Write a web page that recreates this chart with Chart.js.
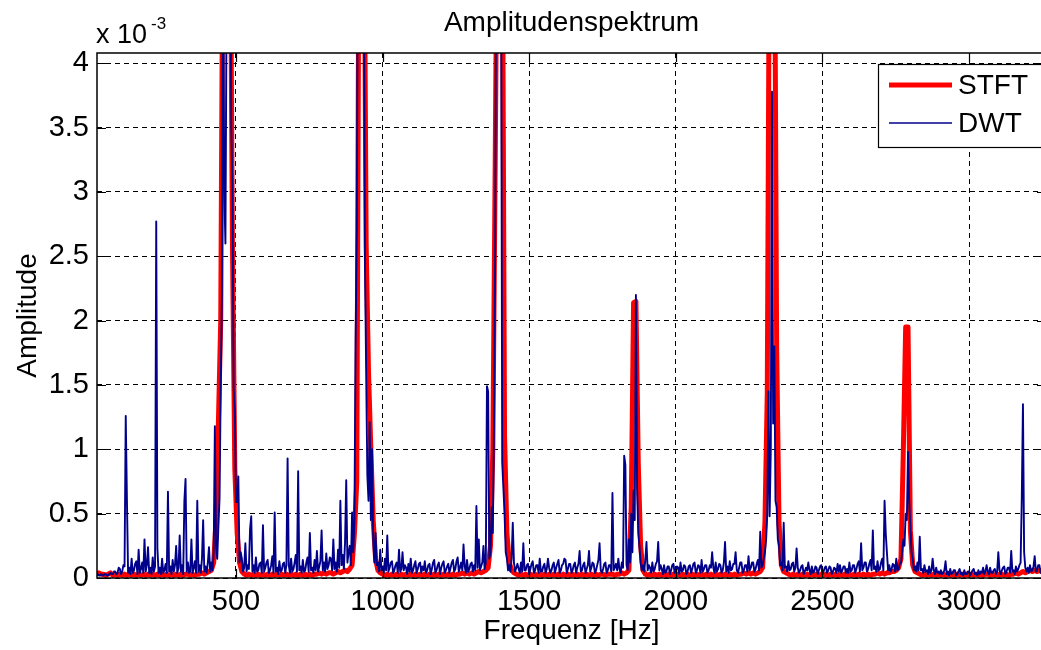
<!DOCTYPE html>
<html>
<head>
<meta charset="utf-8">
<title>Amplitudenspektrum</title>
<script src="https://cdn.jsdelivr.net/npm/chart.js@4.4.1/dist/chart.umd.min.js"></script>
<style>
  html, body { margin: 0; padding: 0; background: #fff; overflow: hidden; }
  #lienzo { display: block; }
</style>
</head>
<body>
<canvas id="lienzo" width="1048" height="650"></canvas>
<script>
// Rejillas de frecuencia: STFT un bin cada 8 Hz, DWT cada 4 Hz, ambas desde 24 Hz
const binInicio = 24
const pasoSTFT = 8
const pasoDWT = 4

// Amplitudes en unidades de 10^-3, una fila = 160 Hz
const valoresSTFT = [
  0.03,0.04,0.03,0.03,0.02,0.03,0.04,0.02,0.03,0.02,0.03,0.02,0.03,0.02,0.03,0.02,0.03,0.02,0.03,0.02,
  0.03,0.02,0.03,0.02,0.03,0.02,0.03,0.02,0.03,0.02,0.03,0.02,0.03,0.02,0.03,0.02,0.03,0.02,0.03,0.03,
  0.02,0.03,0.02,0.03,0.03,0.04,0.03,0.04,0.05,0.06,0.12,0.45,1.20,2.00,5.50,5.80,5.60,5.40,2.60,0.85,
  0.35,0.12,0.05,0.03,0.02,0.03,0.02,0.03,0.02,0.03,0.02,0.03,0.02,0.03,0.02,0.03,0.02,0.03,0.02,0.03,
  0.02,0.03,0.02,0.03,0.02,0.03,0.02,0.03,0.02,0.03,0.02,0.03,0.02,0.03,0.03,0.04,0.03,0.04,0.03,0.04,
  0.04,0.03,0.04,0.05,0.04,0.05,0.06,0.05,0.07,0.10,0.35,0.75,5.50,5.80,5.60,2.59,1.60,1.00,0.45,0.15,
  0.06,0.04,0.03,0.02,0.03,0.02,0.03,0.02,0.03,0.02,0.03,0.02,0.03,0.02,0.03,0.02,0.03,0.02,0.03,0.02,
  0.03,0.02,0.03,0.02,0.03,0.02,0.03,0.02,0.03,0.02,0.03,0.02,0.03,0.02,0.03,0.03,0.04,0.03,0.04,0.03,
  0.04,0.03,0.04,0.05,0.04,0.05,0.06,0.08,0.25,1.00,3.20,5.60,5.80,5.50,1.10,0.35,0.12,0.06,0.04,0.03,
  0.02,0.03,0.02,0.03,0.02,0.03,0.02,0.03,0.02,0.03,0.02,0.03,0.02,0.03,0.02,0.03,0.02,0.03,0.02,0.03,
  0.02,0.03,0.02,0.03,0.02,0.03,0.02,0.03,0.02,0.03,0.02,0.03,0.02,0.03,0.02,0.03,0.03,0.02,0.03,0.03,
  0.03,0.02,0.03,0.03,0.04,0.03,0.04,0.06,0.55,2.14,2.15,0.89,0.25,0.06,0.03,0.02,0.03,0.02,0.03,0.02,
  0.03,0.02,0.03,0.02,0.03,0.02,0.03,0.02,0.03,0.02,0.03,0.02,0.03,0.02,0.03,0.02,0.03,0.02,0.03,0.02,
  0.03,0.02,0.03,0.02,0.03,0.02,0.03,0.02,0.03,0.02,0.03,0.02,0.03,0.02,0.03,0.03,0.04,0.03,0.04,0.03,
  0.04,0.03,0.04,0.05,0.08,0.43,1.44,5.50,5.80,5.60,1.79,0.43,0.10,0.05,0.04,0.03,0.02,0.03,0.02,0.03,
  0.02,0.03,0.02,0.03,0.02,0.03,0.02,0.03,0.02,0.03,0.02,0.03,0.02,0.03,0.02,0.03,0.02,0.03,0.02,0.03,
  0.02,0.03,0.02,0.03,0.02,0.03,0.02,0.03,0.02,0.03,0.02,0.03,0.03,0.04,0.03,0.04,0.03,0.04,0.04,0.05,
  0.05,0.06,0.08,0.15,0.99,1.95,1.95,0.37,0.10,0.05,0.04,0.03,0.02,0.03,0.02,0.03,0.02,0.03,0.02,0.03,
  0.02,0.03,0.02,0.03,0.02,0.03,0.02,0.03,0.02,0.03,0.02,0.03,0.02,0.03,0.02,0.03,0.02,0.03,0.02,0.03,
  0.03,0.02,0.03,0.02,0.03,0.02,0.03,0.02,0.03,0.02,0.03,0.03,0.04,0.03,0.04,0.05,0.04,0.05,0.06,0.05,
  0.06,0.05,0.06,0.05,0.05
]

const valoresDWT = [
  0.02,0.03,0.02,0.02,0.03,0.02,0.02,0.03,0.03,0.02,0.02,0.03,0.04,0.03,0.03,0.05,0.05,0.03,0.04,0.08,
  0.07,0.03,0.05,0.10,0.09,1.26,0.62,0.04,0.08,0.03,0.15,0.04,0.06,0.11,0.13,0.03,0.22,0.04,0.07,0.12,
  0.04,0.30,0.05,0.10,0.24,0.04,0.08,0.03,0.16,0.05,0.09,2.77,0.23,0.04,0.08,0.03,0.15,0.04,0.06,0.11,
  0.04,0.67,0.05,0.09,0.03,0.14,0.05,0.10,0.25,0.04,0.08,0.33,0.05,0.10,0.03,0.60,0.77,0.05,0.12,0.04,
  0.05,0.30,0.04,0.08,0.13,0.04,0.60,0.05,0.10,0.04,0.15,0.45,0.05,0.09,0.04,0.12,0.24,0.05,0.12,0.06,
  0.20,1.18,0.25,0.15,0.40,0.62,1.50,2.20,5.20,3.00,2.60,4.50,5.60,4.80,5.40,3.50,3.05,1.48,1.30,0.59,
  0.59,0.79,0.12,0.20,0.15,0.05,0.08,0.27,0.05,0.10,0.07,0.38,0.48,0.05,0.10,0.04,0.16,0.05,0.06,0.11,
  0.12,0.04,0.41,0.05,0.08,0.12,0.14,0.04,0.06,0.10,0.17,0.04,0.51,0.05,0.08,0.03,0.13,0.05,0.06,0.11,
  0.12,0.04,0.10,0.93,0.10,0.04,0.15,0.05,0.07,0.12,0.18,0.05,0.83,0.06,0.09,0.04,0.14,0.05,0.06,0.12,
  0.16,0.05,0.35,0.06,0.08,0.04,0.14,0.06,0.21,0.05,0.09,0.13,0.37,0.06,0.12,0.05,0.19,0.07,0.10,0.16,
  0.15,0.06,0.30,0.07,0.12,0.05,0.22,0.08,0.60,0.10,0.18,0.07,0.28,0.76,0.12,0.20,0.25,0.10,0.51,0.20,
  0.45,1.85,2.70,5.30,4.20,5.60,4.80,5.50,4.90,2.43,1.60,0.80,0.60,1.21,0.45,1.00,0.30,0.12,0.35,0.10,
  0.12,0.05,0.22,0.06,0.09,0.04,0.15,0.06,0.33,0.05,0.08,0.12,0.13,0.04,0.06,0.10,0.12,0.04,0.22,0.05,
  0.07,0.20,0.06,0.10,0.08,0.03,0.11,0.05,0.15,0.04,0.06,0.10,0.13,0.04,0.07,0.11,0.12,0.04,0.09,0.06,
  0.13,0.04,0.06,0.10,0.11,0.03,0.07,0.12,0.14,0.04,0.06,0.10,0.12,0.03,0.08,0.11,0.13,0.04,0.06,0.09,
  0.11,0.04,0.08,0.12,0.14,0.05,0.07,0.13,0.16,0.05,0.08,0.12,0.06,0.26,0.09,0.04,0.14,0.05,0.07,0.11,
  0.12,0.05,0.10,0.06,0.56,0.08,0.30,0.06,0.09,0.12,0.25,0.07,0.12,1.49,1.45,0.15,0.20,0.55,0.35,1.20,
  2.58,5.40,4.50,5.10,5.60,5.00,0.90,0.70,0.50,0.20,0.15,0.06,0.10,0.05,0.15,0.43,0.12,0.05,0.08,0.11,
  0.07,0.04,0.12,0.05,0.27,0.06,0.06,0.10,0.11,0.03,0.07,0.11,0.13,0.04,0.06,0.10,0.10,0.04,0.15,0.05,
  0.05,0.09,0.11,0.04,0.07,0.15,0.08,0.04,0.06,0.10,0.12,0.04,0.08,0.11,0.14,0.04,0.06,0.10,0.11,0.15,
  0.14,0.04,0.07,0.11,0.11,0.04,0.06,0.10,0.12,0.04,0.08,0.11,0.21,0.05,0.06,0.10,0.12,0.04,0.07,0.10,
  0.21,0.05,0.08,0.12,0.11,0.04,0.06,0.10,0.14,0.27,0.06,0.04,0.07,0.11,0.12,0.04,0.06,0.10,0.10,0.05,
  0.66,0.06,0.08,0.11,0.06,0.15,0.07,0.04,0.12,0.08,0.95,0.88,0.10,0.06,0.30,0.12,0.50,0.20,0.68,0.45,
  2.20,0.70,0.35,0.25,0.12,0.06,0.10,0.05,0.14,0.28,0.06,0.10,0.08,0.04,0.12,0.05,0.07,0.11,0.13,0.28,
  0.06,0.10,0.07,0.03,0.10,0.04,0.05,0.09,0.09,0.03,0.06,0.10,0.11,0.04,0.05,0.09,0.08,0.03,0.12,0.05,
  0.06,0.10,0.09,0.03,0.05,0.09,0.10,0.04,0.07,0.11,0.12,0.04,0.06,0.10,0.09,0.04,0.14,0.05,0.07,0.10,
  0.10,0.04,0.06,0.10,0.08,0.20,0.08,0.04,0.12,0.05,0.07,0.11,0.10,0.04,0.06,0.12,0.28,0.05,0.09,0.04,
  0.13,0.06,0.07,0.11,0.11,0.20,0.06,0.04,0.08,0.12,0.12,0.04,0.06,0.10,0.10,0.05,0.17,0.06,0.08,0.12,
  0.12,0.05,0.07,0.11,0.14,0.06,0.36,0.08,0.10,0.15,0.20,0.30,0.50,1.45,0.48,1.00,3.78,1.20,1.80,0.60,
  0.55,0.30,0.25,0.10,0.12,0.06,0.43,0.08,0.09,0.05,0.13,0.06,0.07,0.11,0.12,0.05,0.08,0.23,0.08,0.04,
  0.06,0.09,0.10,0.03,0.05,0.08,0.06,0.12,0.06,0.03,0.09,0.04,0.05,0.09,0.08,0.03,0.06,0.09,0.10,0.03,
  0.05,0.08,0.09,0.04,0.06,0.09,0.08,0.03,0.05,0.08,0.07,0.04,0.11,0.05,0.10,0.04,0.06,0.09,0.09,0.04,
  0.07,0.04,0.12,0.05,0.06,0.10,0.10,0.04,0.07,0.11,0.13,0.05,0.27,0.06,0.08,0.12,0.12,0.05,0.07,0.11,
  0.14,0.06,0.37,0.07,0.09,0.05,0.13,0.06,0.07,0.12,0.15,0.06,0.60,0.35,0.20,0.06,0.10,0.05,0.07,0.11,
  0.10,0.05,0.15,0.06,0.07,0.11,0.12,0.20,0.30,0.25,0.50,0.45,0.98,0.60,0.40,0.20,0.15,0.06,0.09,0.05,
  0.12,0.06,0.32,0.06,0.07,0.04,0.10,0.05,0.06,0.03,0.09,0.04,0.06,0.15,0.06,0.03,0.08,0.04,0.05,0.03,
  0.06,0.03,0.04,0.06,0.13,0.03,0.05,0.02,0.07,0.03,0.04,0.06,0.06,0.02,0.03,0.05,0.07,0.03,0.04,0.02,
  0.06,0.03,0.03,0.05,0.05,0.02,0.04,0.06,0.07,0.03,0.04,0.02,0.06,0.03,0.05,0.04,0.08,0.03,0.05,0.10,
  0.05,0.03,0.08,0.04,0.04,0.06,0.07,0.03,0.05,0.20,0.06,0.03,0.06,0.08,0.09,0.03,0.05,0.08,0.08,0.04,
  0.21,0.05,0.06,0.03,0.09,0.05,0.07,0.10,0.12,0.62,1.35,0.20,0.08,0.05,0.08,0.04,0.10,0.05,0.06,0.09,
  0.17,0.05,0.06,0.10,0.10,0.04,0.07,0.09,0.05
]

const ticksX = [500, 1000, 1500, 2000, 2500, 3000]
const ticksY = [0, 0.5, 1, 1.5, 2, 2.5, 3, 3.5, 4]

const fuente = 'Liberation Sans'

// Convierte una lista de amplitudes en puntos {x, y} sobre su rejilla de bins
function puntos(valores, paso) {
    return valores.map((v, i) => ({ x: binInicio + i * paso, y: v }))
}

// Marco, marcas hacia dentro, titulo, exponente y leyenda al estilo MATLAB
const marcoMatlab = {
    id: 'marcoMatlab',
    afterDraw(chart) {
        const { ctx, chartArea: a, scales: { x, y } } = chart
        ctx.save()
        ctx.setLineDash([])
        ctx.strokeStyle = '#000'

        ctx.lineWidth = 1.2
        ctx.beginPath()
        ticksX.forEach(v => {
            const px = Math.round(x.getPixelForValue(v)) + 0.5
            ctx.moveTo(px, a.bottom); ctx.lineTo(px, a.bottom - 9)
            ctx.moveTo(px, a.top); ctx.lineTo(px, a.top + 9)
        })
        ticksY.forEach(v => {
            const py = Math.round(y.getPixelForValue(v)) + 0.5
            ctx.moveTo(a.left, py); ctx.lineTo(a.left + 9, py)
            ctx.moveTo(a.right, py); ctx.lineTo(a.right - 9, py)
        })
        ctx.stroke()

        ctx.lineWidth = 1.5
        ctx.strokeRect(a.left, a.top, a.right - a.left, a.bottom - a.top)

        // Titulo centrado sobre los ejes
        ctx.fillStyle = '#000'
        ctx.textAlign = 'center'
        ctx.textBaseline = 'middle'
        ctx.font = '28px "' + fuente + '"'
        ctx.fillText('Amplitudenspektrum', (a.left + a.right) / 2, 23)

        // Factor de escala del eje Y
        ctx.textAlign = 'left'
        ctx.textBaseline = 'alphabetic'
        ctx.font = '27px "' + fuente + '"'
        ctx.fillText('x 10', a.left - 1, 43)
        ctx.font = '17px "' + fuente + '"'
        ctx.fillText('-3', a.left + 54, 29)

        // Leyenda
        const izq = 878, arriba = 64
        ctx.fillStyle = '#fff'
        ctx.fillRect(izq, arriba, 170, 83)
        ctx.lineWidth = 1.2
        ctx.strokeRect(izq + 0.5, arriba + 0.5, 170, 83)
        chart.data.datasets.forEach((d, i) => {
            const yy = arriba + 21 + i * 38
            ctx.strokeStyle = d.borderColor
            ctx.lineWidth = Math.min(d.borderWidth, 5)
            ctx.globalAlpha = d.borderWidth < 3 ? 0.75 : 1
            ctx.beginPath(); ctx.moveTo(izq + 11, yy); ctx.lineTo(izq + 74, yy); ctx.stroke()
            ctx.globalAlpha = 1
            ctx.fillStyle = '#000'
            ctx.font = '28px "' + fuente + '"'
            ctx.textBaseline = 'middle'
            ctx.fillText(d.label, izq + 80, yy + 1)
        })
        ctx.restore()
    }
}

Chart.defaults.font.family = fuente
Chart.defaults.color = '#000'

new Chart(document.getElementById('lienzo'), {
    type: 'line',
    data: {
        datasets: [{
            label: 'STFT',
            data: puntos(valoresSTFT, pasoSTFT),
            borderColor: '#ff0000',
            borderWidth: 5,
            order: 1
        }, {
            label: 'DWT',
            data: puntos(valoresDWT, pasoDWT),
            borderColor: '#00008b',
            borderWidth: 1.9,
            order: 0
        }]
    },
    options: {
        responsive: false,
        animation: false,
        events: [],
        layout: { padding: { top: 53, right: 2, left: 0, bottom: 0 } },
        elements: {
            point: { radius: 0 },
            line: { tension: 0, borderJoinStyle: 'round', fill: false }
        },
        datasets: { line: { clip: 0 } },
        plugins: {
            legend: { display: false },
            title: { display: false },
            tooltip: { enabled: false }
        },
        scales: {
            x: {
                type: 'linear',
                min: 26,
                max: 3262.6,
                afterFit: s => { s.height = 72 },
                afterBuildTicks: s => { s.ticks = ticksX.map(v => ({ value: v })) },
                ticks: { callback: v => String(v), font: { size: 29 }, padding: 7, maxRotation: 0, autoSkip: false },
                grid: { color: '#000', lineWidth: 1, drawTicks: false },
                border: { display: false, dash: [5, 4] },
                title: { display: true, text: 'Frequenz [Hz]', font: { size: 28 }, padding: { top: 0, bottom: 2 } }
            },
            y: {
                min: 0,
                max: 4.08,
                afterFit: s => { s.width = 97 },
                afterBuildTicks: s => { s.ticks = ticksY.map(v => ({ value: v })) },
                ticks: { callback: v => String(v), font: { size: 29 }, padding: 8, autoSkip: false },
                grid: { color: '#000', lineWidth: 1, drawTicks: false },
                border: { display: false, dash: [5, 4] },
                title: { display: true, text: 'Amplitude', font: { size: 28 }, padding: { top: 11, bottom: 0 } }
            }
        }
    },
    plugins: [marcoMatlab]
})
</script>
</body>
</html>
